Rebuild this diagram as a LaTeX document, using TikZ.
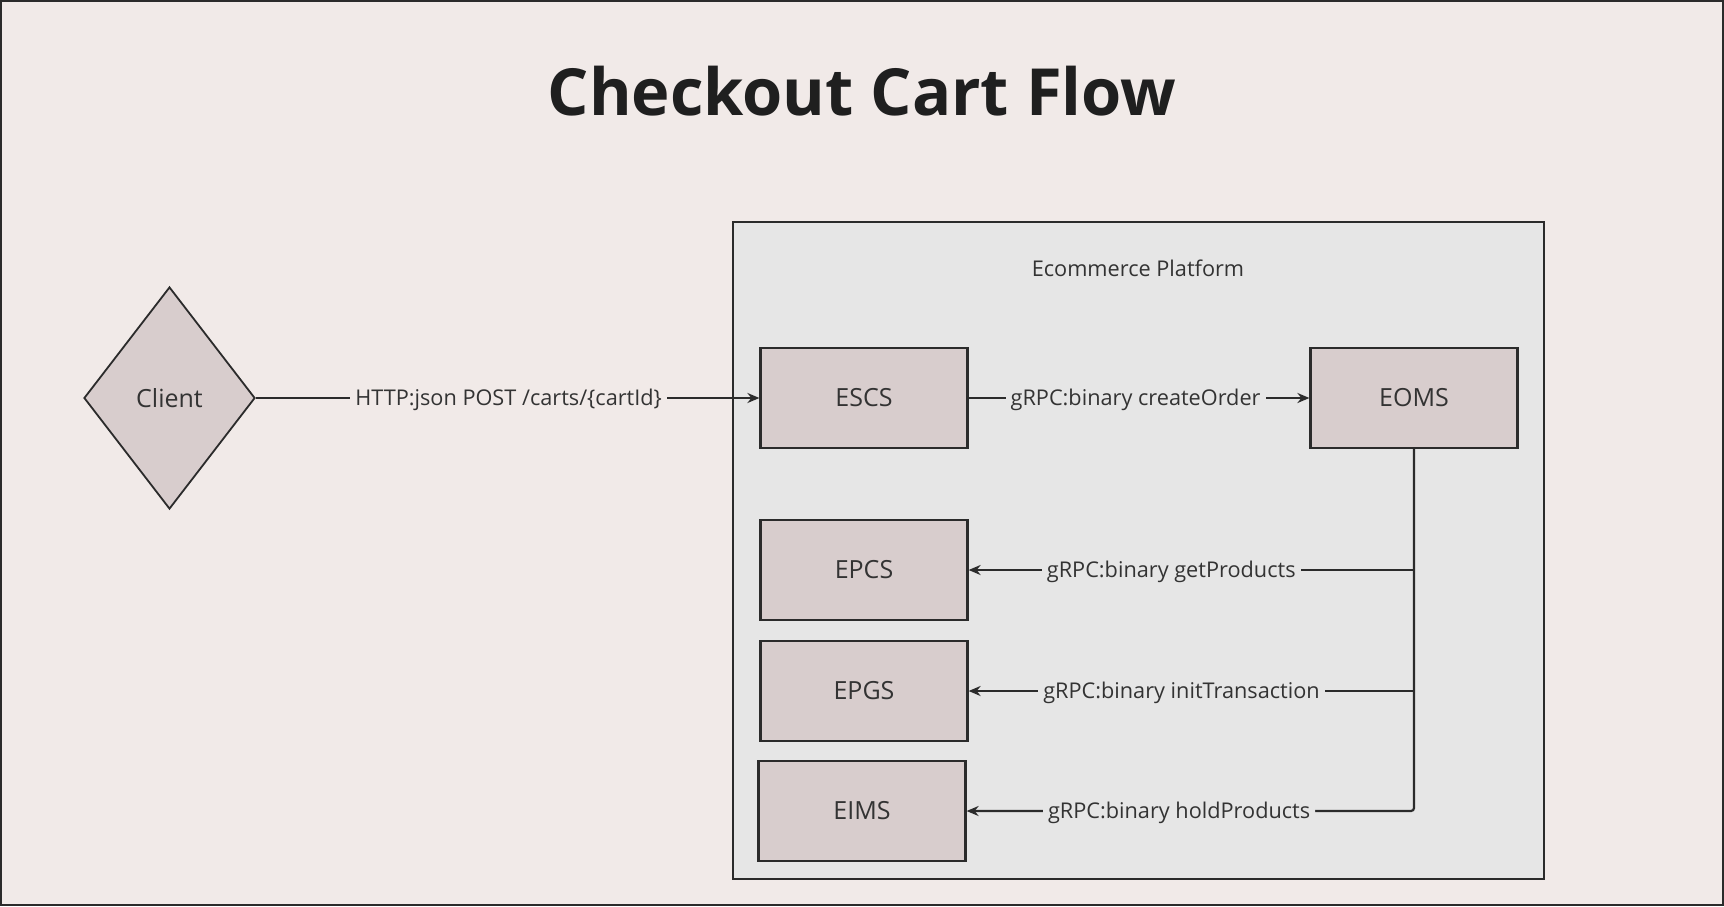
\documentclass[tikz,border=0pt]{standalone}
\usepackage{fontspec}
\setmainfont{Open Sans}
\usetikzlibrary{shapes.geometric,arrows.meta,calc}
\definecolor{bgcol}{RGB}{241,234,232}
\definecolor{platcol}{RGB}{230,230,230}
\definecolor{boxcol}{RGB}{216,205,205}
\definecolor{linecol}{RGB}{43,43,43}
\definecolor{txtcol}{RGB}{51,51,51}
\tikzset{
  svcbox/.style={draw=linecol, line width=2.2pt, fill=boxcol, minimum width=207pt, minimum height=100pt, inner sep=0pt, text=txtcol, font=\fontsize{25}{29}\selectfont},
  lbl/.style={fill=platcol, inner sep=0pt, inner xsep=5pt, minimum height=26pt, yshift=-1.5pt, text=txtcol, font=\fontsize{21.7}{26}\selectfont},
  conn/.style={draw=linecol, line width=2.2pt, -{Stealth[length=12pt,width=10pt]}},
}
\begin{document}
\begin{tikzpicture}[x=1pt,y=-1pt]
\useasboundingbox (0,0) rectangle (1724,906);
\fill[bgcol] (0,0) rectangle (1724,906);
\draw[linecol, line width=2pt] (1,1) rectangle (1723,905);
\node[font=\bfseries\fontsize{65}{78}\selectfont, text=black!88, anchor=base] (title) at (862,115) {Checkout Cart Flow};
\node[draw=linecol, line width=2.2pt, fill=platcol, anchor=north west, minimum width=811pt, minimum height=657pt, inner sep=0pt] (plat) at (732,221) {};
\node[text=txtcol, font=\fontsize{21.7}{26}\selectfont, anchor=base] (platlbl) at (1138,276) {Ecommerce Platform};
\node[diamond, draw=linecol, line width=1.8pt, fill=boxcol, minimum width=171pt, minimum height=222pt, inner sep=0pt, text=txtcol, font=\fontsize{25}{29}\selectfont] (client) at (169.5,398) {Client};
\node[svcbox] (escs) at (864,398) {ESCS};
\node[svcbox] (eoms) at (1414,398) {EOMS};
\node[svcbox] (epcs) at (864,570) {EPCS};
\node[svcbox] (epgs) at (864,691) {EPGS};
\node[svcbox] (eims) at (862,811) {EIMS};
\draw[conn] (client.east) -- node[lbl, fill=bgcol, pos=0.502] (httplbl) {HTTP:json POST /carts/\{cartId\}} (escs.west);
\draw[conn] (escs.east) -- node[lbl, pos=0.49] (colbl) {gRPC:binary createOrder} (eoms.west);
\draw[conn, rounded corners=3pt] (eoms.south) |- node[lbl, pos=0.7625] (hplbl) {gRPC:binary holdProducts} (eims.east);
\coordinate (j1) at (eoms.south |- epcs.east);
\coordinate (j2) at (eoms.south |- epgs.east);
\draw[conn] (j1) -- node[lbl, pos=0.545] (gplbl) {gRPC:binary getProducts} (epcs.east);
\draw[conn] (j2) -- node[lbl, pos=0.522] (itlbl) {gRPC:binary initTransaction} (epgs.east);
\end{tikzpicture}
\end{document}
